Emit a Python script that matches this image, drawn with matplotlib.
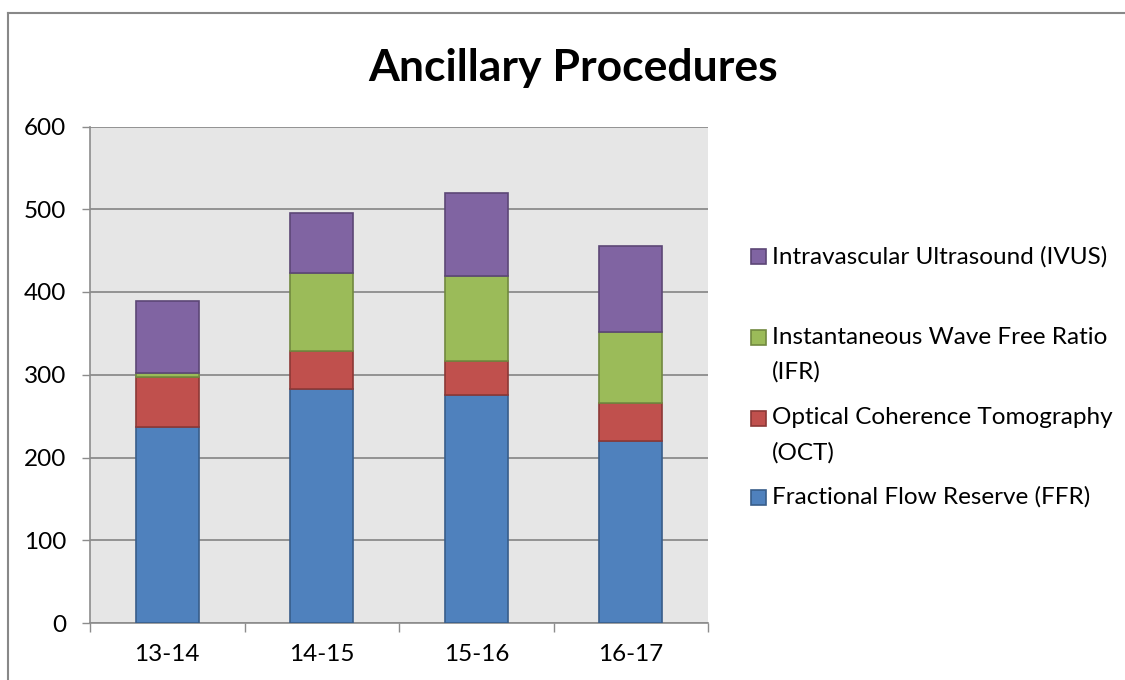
import matplotlib
matplotlib.use("Agg")
import matplotlib.pyplot as plt
from matplotlib.patches import Rectangle
import numpy as np

plt.rcParams['font.family'] = ['Lato', 'DejaVu Sans']

categories = ["13-14", "14-15", "15-16", "16-17"]
ffr = [237, 283, 276, 220]
oct_ = [60, 46, 41, 46]
ifr = [5, 94, 102, 86]
ivus = [87, 72, 101, 104]

series_names = ["Fractional Flow Reserve (FFR)", "Optical Coherence Tomography (OCT)",
                "Instantaneous Wave Free Ratio (IFR)", "Intravascular Ultrasound (IVUS)"]
legend_labels = ["Fractional Flow Reserve (FFR)", "Optical Coherence Tomography\n(OCT)",
                 "Instantaneous Wave Free Ratio\n(IFR)", "Intravascular Ultrasound (IVUS)"]
y_ticks = [0, 100, 200, 300, 400, 500, 600]

faces = ["#4F81BD", "#C0504D", "#9BBB59", "#8064A2"]
edges = ["#385D8A", "#8C3836", "#71893F", "#5C4776"]

fig = plt.figure(figsize=(11.25, 6.8), dpi=100)
ax = fig.add_axes([90/1125, 57/680, 618/1125, 496.5/680])
ax.set_facecolor("#E6E6E6")

x = np.arange(len(categories))
bottom = np.zeros(len(categories))
for vals, fc, ec, name in zip([ffr, oct_, ifr, ivus], faces, edges, series_names):
    ax.bar(x, vals, width=0.405, bottom=bottom, color=fc, edgecolor=ec, linewidth=1.2,
           label=name, zorder=3)
    bottom += np.array(vals)

ax.set_xlim(-0.5, len(categories) - 0.5)
ax.set_ylim(0, 600)
ax.set_yticks(y_ticks)
ax.set_yticklabels([str(v) for v in y_ticks], fontsize=17.5)
ax.yaxis.grid(True, color="#8C8C8C", linewidth=1.3, zorder=0)
ax.set_axisbelow(True)
ax.tick_params(axis='y', length=6, width=1, color="#8C8C8C", pad=11)

ax.set_xticks(x)
ax.set_xticklabels(categories, fontsize=17.5)
ax.set_xticks(np.arange(len(categories) + 1) - 0.5, minor=True)
ax.tick_params(axis='x', which='major', length=0, pad=15)
ax.tick_params(axis='x', which='minor', length=6.5, width=1, color="#8C8C8C")

for s in ["top", "right"]:
    ax.spines[s].set_visible(False)
for s in ["left", "bottom"]:
    ax.spines[s].set_color("#8C8C8C")
    ax.spines[s].set_linewidth(1.2)

fig.text(573/1125, 1 - 68/680, "Ancillary Procedures", ha="center", va="center",
         fontsize=32, fontweight="bold")

# outer chart border (top and left visible)
fig.add_artist(plt.Line2D([7.5/1125, 7.5/1125], [0, 1 - 13/680], transform=fig.transFigure,
                          color="#888888", linewidth=1.5))
fig.add_artist(plt.Line2D([7.5/1125, 1], [1 - 13/680, 1 - 13/680], transform=fig.transFigure,
                          color="#888888", linewidth=1.5))

# legend (top to bottom: reversed order of stacking)
legend_y = [257, 337, 418, 497]
line_gap = 35
for (lab, fc, ec), yy in zip(list(zip(legend_labels, faces, edges))[::-1], legend_y):
    fig.add_artist(Rectangle((751/1125, 1 - (yy + 7.5)/680), 15/1125, 15/680,
                             transform=fig.transFigure, facecolor=fc, edgecolor=ec, linewidth=1.2))
    for i, line in enumerate(lab.split("\n")):
        fig.text(772/1125, 1 - (yy + i * line_gap)/680, line, ha="left", va="center",
                 fontsize=17.5)

fig.savefig("out.png", dpi=100)
